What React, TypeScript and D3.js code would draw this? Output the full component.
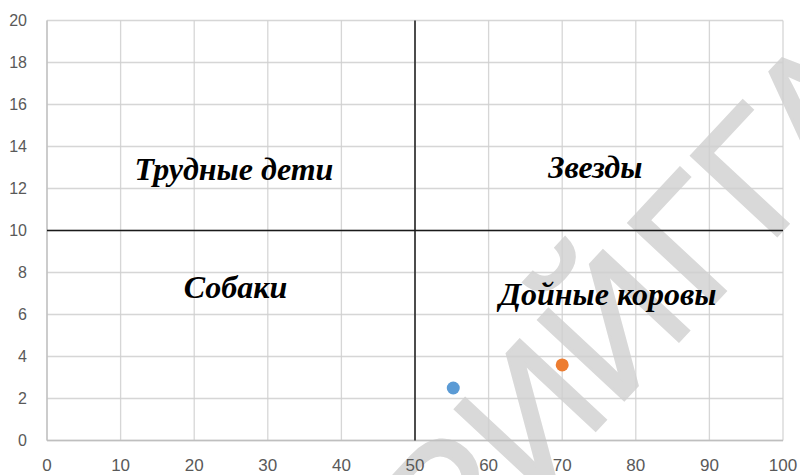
import React, { useEffect, useRef } from "react";
import * as d3 from "d3";

// chart values
const xTicks = [0, 10, 20, 30, 40, 50, 60, 70, 80, 90, 100];
const yTicks = [0, 2, 4, 6, 8, 10, 12, 14, 16, 18, 20];
const pointX = [55.2, 70];
const pointY = [2.5, 3.6];
const pointColors = ["#5b9bd5", "#ed7d31"];
const quadrantNames = ["Трудные дети", "Звезды", "Собаки", "Дойные коровы"];
// label anchor in data units (centre x, baseline y)
const quadrantAt = [[25.4, 12.4], [74.5, 12.5], [25.6, 6.8], [76.2, 6.45]];
const watermark = ["РЕПОЗИТОРИЙ", "ГГАУ"];

const W = 800, H = 475;
const margin = { top: 20.5, right: 17, bottom: 34.5, left: 47 };

export default function App() {
  const ref = useRef<SVGSVGElement>(null);

  useEffect(() => {
    const svg = d3.select(ref.current);
    svg.selectAll("*").remove();

    const w = W - margin.left - margin.right;
    const h = H - margin.top - margin.bottom;
    const x = d3.scaleLinear().domain([0, 100]).range([0, w]);
    const y = d3.scaleLinear().domain([0, 20]).range([h, 0]);

    svg.append("rect").attr("width", W).attr("height", H).attr("fill", "#fff");

    // watermark, under the grid
    const wm = svg.append("g").attr("transform", "translate(705,313) rotate(-47)")
      .style("font-family", "'Liberation Sans', Arial, sans-serif")
      .style("font-size", "170px").attr("fill", "#d9d9d9")
      .attr("stroke", "#d9d9d9").attr("stroke-width", 3);
    wm.append("text").attr("x", -10).attr("text-anchor", "end").text(watermark[0]);
    wm.append("text").attr("x", 0).attr("text-anchor", "start").text(watermark[1]);

    const g = svg.append("g").attr("transform", `translate(${margin.left},${margin.top})`);

    // grid
    g.selectAll(".vgrid").data(xTicks).join("line")
      .attr("x1", d => x(d)).attr("x2", d => x(d))
      .attr("y1", 0).attr("y2", h)
      .attr("stroke", "#d0d0d0").attr("stroke-width", 1.3).attr("opacity", 0.85);
    g.selectAll(".hgrid").data(yTicks).join("line")
      .attr("x1", 0).attr("x2", w)
      .attr("y1", d => y(d)).attr("y2", d => y(d))
      .attr("stroke", "#d0d0d0").attr("stroke-width", 1.3).attr("opacity", 0.85);

    // axis lines
    g.append("line").attr("x1", 0).attr("x2", w).attr("y1", h).attr("y2", h)
      .attr("stroke", "#bfbfbf").attr("stroke-width", 1.3);
    g.append("line").attr("x1", 0).attr("x2", 0).attr("y1", 0).attr("y2", h)
      .attr("stroke", "#bfbfbf").attr("stroke-width", 1.3);

    // tick labels
    g.selectAll(".ylab").data(yTicks).join("text")
      .attr("x", -20).attr("y", d => y(d)).attr("dy", "0.35em")
      .attr("text-anchor", "end")
      .style("font-family", "'Liberation Sans', Arial, sans-serif")
      .style("font-size", "16px").attr("fill", "#595959")
      .text(d => d);
    g.selectAll(".xlab").data(xTicks).join("text")
      .attr("x", d => x(d)).attr("y", h + 30)
      .attr("text-anchor", "middle")
      .style("font-family", "'Liberation Sans', Arial, sans-serif")
      .style("font-size", "17px").attr("fill", "#595959")
      .text(d => d);

    // quadrant divider lines
    g.append("line").attr("x1", x(50)).attr("x2", x(50)).attr("y1", 0).attr("y2", h)
      .attr("stroke", "#1a1a1a").attr("stroke-width", 1.5);
    g.append("line").attr("x1", 0).attr("x2", w).attr("y1", y(10)).attr("y2", y(10))
      .attr("stroke", "#1a1a1a").attr("stroke-width", 1.5);

    // quadrant names
    g.selectAll(".qname").data(quadrantNames).join("text")
      .attr("x", (d, i) => x(quadrantAt[i][0]))
      .attr("y", (d, i) => y(quadrantAt[i][1]))
      .attr("text-anchor", "middle")
      .style("font-family", "'Liberation Serif', 'Times New Roman', serif")
      .style("font-weight", "bold").style("font-style", "italic")
      .style("font-size", "32px").attr("fill", "#000")
      .text(d => d);

    // points
    g.selectAll(".pt").data(pointX).join("circle")
      .attr("cx", d => x(d))
      .attr("cy", (d, i) => y(pointY[i]))
      .attr("r", 6.5)
      .attr("fill", (d, i) => pointColors[i]);
  }, []);

  return (
    <svg ref={ref} width={W} height={H}
      style={{ position: "absolute", left: 0, top: 0, display: "block" }} />
  );
}
